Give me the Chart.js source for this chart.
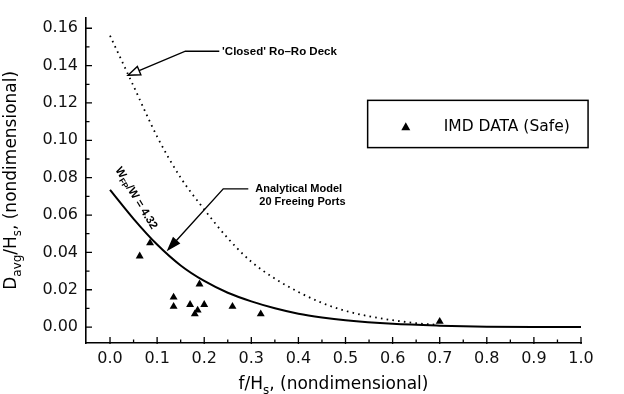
<!DOCTYPE html>
<html>
<head>
<meta charset="utf-8">
<script src="https://cdn.jsdelivr.net/npm/chart.js@4.4.1/dist/chart.umd.min.js"></script>
<style>
  html, body { margin: 0; padding: 0; background: #fff; }
  #wrap { width: 624px; height: 394px; }
</style>
</head>
<body>
<div id="wrap"><canvas id="freeing"></canvas></div>
<script>
"use strict";

/* data */
var imdX = [0.063, 0.085, 0.135, 0.135, 0.17, 0.18, 0.186, 0.19, 0.20, 0.26, 0.32, 0.70];
var imdY = [0.038, 0.045, 0.016, 0.011, 0.012, 0.007, 0.009, 0.023, 0.012, 0.011, 0.007, 0.003];

/* analytical model, 20 freeing ports (solid) */
var modelX = [0.00, 0.05, 0.10, 0.15, 0.20, 0.25, 0.30, 0.35, 0.40, 0.45, 0.50, 0.60, 0.70, 0.80, 0.90, 1.00];
var modelY = [0.0735, 0.058, 0.0442, 0.0330, 0.0247, 0.0184, 0.0138, 0.0101, 0.0072, 0.0052, 0.0037, 0.0018, 0.0008, 0.0002, 0.0, 0.0];

/* 'closed' ro-ro deck (dotted) */
var closedX = [0.00, 0.05, 0.10, 0.15, 0.20, 0.25, 0.30, 0.35, 0.40, 0.45, 0.50, 0.55, 0.60, 0.65, 0.69];
var closedY = [0.156, 0.129, 0.102, 0.080, 0.063, 0.0476, 0.035, 0.026, 0.0188, 0.013, 0.0087, 0.0058, 0.0037, 0.0021, 0.0013];

var xTicks = [0.0, 0.1, 0.2, 0.3, 0.4, 0.5, 0.6, 0.7, 0.8, 0.9, 1.0];
var xMinor = [0.05, 0.15, 0.25, 0.35, 0.45, 0.55, 0.65, 0.75, 0.85, 0.95];
var yTicks = [0.00, 0.02, 0.04, 0.06, 0.08, 0.10, 0.12, 0.14, 0.16];
var yMinor = [0.01, 0.03, 0.05, 0.07, 0.09, 0.11, 0.13, 0.15];

var legendLabel = 'IMD DATA (Safe)';

function pts(xs, ys) {
    return xs.map(function (x, i) { return { x: x, y: ys[i] }; });
}

var FONT = '"DejaVu Sans", sans-serif';
var NOTE = '"Liberation Sans", Arial, sans-serif';

/* draw text with subscripts, centred on 0,0 baseline */
function richText(ctx, parts, size, family, weight) {
    var w = 0;
    parts.forEach(function (p) {
        ctx.font = (weight || '') + ' ' + (p.sub ? size * 0.7 : size) + 'px ' + family;
        p.w = ctx.measureText(p.t).width;
        w += p.w;
    });
    var x = -w / 2;
    parts.forEach(function (p) {
        ctx.font = (weight || '') + ' ' + (p.sub ? size * 0.7 : size) + 'px ' + family;
        ctx.fillText(p.t, x, p.sub ? size * 0.28 : 0);
        x += p.w;
    });
}

function arrowHead(ctx, from, tip, len, half, filled) {
    var a = Math.atan2(tip[1] - from[1], tip[0] - from[0]);
    var bx = tip[0] - Math.cos(a) * len, by = tip[1] - Math.sin(a) * len;
    ctx.beginPath();
    ctx.moveTo(tip[0], tip[1]);
    ctx.lineTo(bx + Math.sin(a) * half, by - Math.cos(a) * half);
    ctx.lineTo(bx - Math.sin(a) * half, by + Math.cos(a) * half);
    ctx.closePath();
    ctx.fillStyle = filled ? '#000' : '#fff';
    ctx.fill();
    ctx.stroke();
    ctx.fillStyle = '#000';
    return [bx, by];
}

var decor = {
    id: 'decor',
    afterDatasetsDraw: function (chart) {
        var ctx = chart.ctx, xs = chart.scales.x, ys = chart.scales.y;
        var P = function (x, y) { return [xs.getPixelForValue(x), ys.getPixelForValue(y)]; };
        var bottom = chart.chartArea.bottom, left = chart.chartArea.left;
        ctx.save();
        ctx.strokeStyle = '#000';
        ctx.fillStyle = '#000';

        /* inward tick marks */
        ctx.lineWidth = 1.3;
        ctx.beginPath();
        yTicks.forEach(function (v) { var y = ys.getPixelForValue(v); ctx.moveTo(left, y); ctx.lineTo(left + 6, y); });
        yMinor.forEach(function (v) { var y = ys.getPixelForValue(v); ctx.moveTo(left, y); ctx.lineTo(left + 3.5, y); });
        xTicks.forEach(function (v) { var x = xs.getPixelForValue(v); ctx.moveTo(x, bottom + 1); ctx.lineTo(x, bottom - 6); });
        xMinor.forEach(function (v) { var x = xs.getPixelForValue(v); ctx.moveTo(x, bottom); ctx.lineTo(x, bottom - 3.5); });
        ctx.stroke();

        /* axis titles */
        ctx.textAlign = 'left';
        ctx.textBaseline = 'alphabetic';
        ctx.save();
        ctx.translate((xs.left + xs.right) / 2, 389);
        richText(ctx, [{ t: 'f/H' }, { t: 's', sub: true }, { t: ', (nondimensional)' }], 17, FONT);
        ctx.restore();
        ctx.save();
        ctx.translate(16, (ys.top + ys.bottom) / 2);
        ctx.rotate(-Math.PI / 2);
        richText(ctx, [{ t: 'D' }, { t: 'avg', sub: true }, { t: '/H' }, { t: 's', sub: true }, { t: ', (nondimensional)' }], 17, FONT);
        ctx.restore();

        /* 'Closed' Ro-Ro Deck note */
        ctx.lineWidth = 1.4;
        var t1 = P(0.232, 0.1477), e1 = P(0.160, 0.1477), tip1 = P(0.0383, 0.1348);
        var b1 = arrowHead(ctx, e1, tip1, 12, 4.5, false);
        ctx.beginPath();
        ctx.moveTo(t1[0], t1[1]); ctx.lineTo(e1[0], e1[1]); ctx.lineTo(b1[0], b1[1]);
        ctx.stroke();
        ctx.font = 'bold 11.5px ' + NOTE;
        ctx.textBaseline = 'middle';
        var c1 = P(0.238, 0.1472);
        ctx.fillText("'Closed' Ro\u2013Ro Deck", c1[0], c1[1]);

        /* Analytical model note */
        var t2 = P(0.2936, 0.074), e2 = P(0.2404, 0.074), tip2 = P(0.1234, 0.0415);
        var b2 = arrowHead(ctx, e2, tip2, 12, 4, true);
        ctx.beginPath();
        ctx.moveTo(t2[0], t2[1]); ctx.lineTo(e2[0], e2[1]); ctx.lineTo(b2[0], b2[1]);
        ctx.stroke();
        ctx.font = 'bold 11px ' + NOTE;
        var a1 = P(0.3085, 0.074), a2 = P(0.317, 0.0668);
        ctx.fillText('Analytical Model', a1[0], a1[1]);
        ctx.fillText('20 Freeing Ports', a2[0], a2[1]);

        /* curve label */
        var wl = P(0.0555, 0.0690);
        ctx.save();
        ctx.translate(wl[0], wl[1]);
        ctx.rotate(58.5 * Math.PI / 180);
        ctx.textBaseline = 'middle';
        richText(ctx, [{ t: 'W' }, { t: 'FP', sub: true }, { t: '/W = 4.32' }], 11.5, NOTE, 'bold');
        ctx.restore();

        /* legend box */
        var l0 = P(0.547, 0.1214), l1 = P(1.015, 0.0961);
        ctx.lineWidth = 1.5;
        ctx.strokeRect(l0[0], l0[1], l1[0] - l0[0], l1[1] - l0[1]);
        var lm = P(0.628, 0.107);
        ctx.beginPath();
        ctx.moveTo(lm[0], lm[1] - 5);
        ctx.lineTo(lm[0] + 4.5, lm[1] + 3);
        ctx.lineTo(lm[0] - 4.5, lm[1] + 3);
        ctx.closePath();
        ctx.fill();
        ctx.font = '15.5px ' + FONT;
        ctx.textBaseline = 'middle';
        var lt = P(0.7085, 0.107);
        ctx.fillText(legendLabel, lt[0], lt[1]);

        ctx.restore();
    }
};

var freeingchart = document.getElementById('freeing').getContext('2d');

var freeingConfig = {
    type: 'scatter',
    data: {
        datasets: [{
            label: legendLabel,
            data: pts(imdX, imdY),
            pointStyle: 'triangle',
            pointRadius: 4.6,
            backgroundColor: '#000',
            borderColor: '#000',
            borderWidth: 0,
            showLine: false,
        }, {
            label: 'Analytical Model 20 Freeing Ports',
            data: pts(modelX, modelY),
            showLine: true,
            pointRadius: 0,
            borderColor: '#000',
            borderWidth: 2,
            cubicInterpolationMode: 'monotone',
            fill: false,
        }, {
            label: "'Closed' Ro-Ro Deck",
            data: pts(closedX, closedY),
            showLine: true,
            pointRadius: 0,
            borderColor: '#000',
            borderWidth: 1.8,
            borderDash: [1.6, 4.2],
            cubicInterpolationMode: 'monotone',
            fill: false,
        }]
    },
    options: {
        responsive: true,
        maintainAspectRatio: false,
        animation: false,
        layout: {
            padding: { top: 5, right: 43, bottom: 0, left: 0 }
        },
        plugins: {
            legend: { display: false },
            tooltip: { enabled: false },
        },
        scales: {
            x: {
                type: 'linear',
                min: -0.051,
                max: 1.0,
                afterBuildTicks: function (scale) {
                    scale.ticks = xTicks.map(function (v) { return { value: v }; });
                },
                afterFit: function (scale) { scale.height = 51; },
                grid: { display: false, drawTicks: false },
                border: { display: true, color: '#000', width: 1.6 },
                ticks: {
                    autoSkip: false,
                    maxRotation: 0,
                    padding: 6,
                    color: '#111',
                    font: { family: FONT, size: 16 },
                    callback: function (v) { return Number(v).toFixed(1); }
                }
            },
            y: {
                type: 'linear',
                min: -0.0085,
                max: 0.1657,
                afterBuildTicks: function (scale) {
                    scale.ticks = yTicks.map(function (v) { return { value: v }; });
                },
                afterFit: function (scale) { scale.width = 86; },
                grid: { display: false, drawTicks: false },
                border: { display: true, color: '#000', width: 1.6 },
                ticks: {
                    autoSkip: false,
                    padding: 8,
                    color: '#111',
                    font: { family: FONT, size: 16 },
                    callback: function (v) { return Number(v).toFixed(2); }
                }
            }
        }
    },
    plugins: [decor]
};
var freeing = new Chart(freeingchart, freeingConfig);
</script>
</body>
</html>
